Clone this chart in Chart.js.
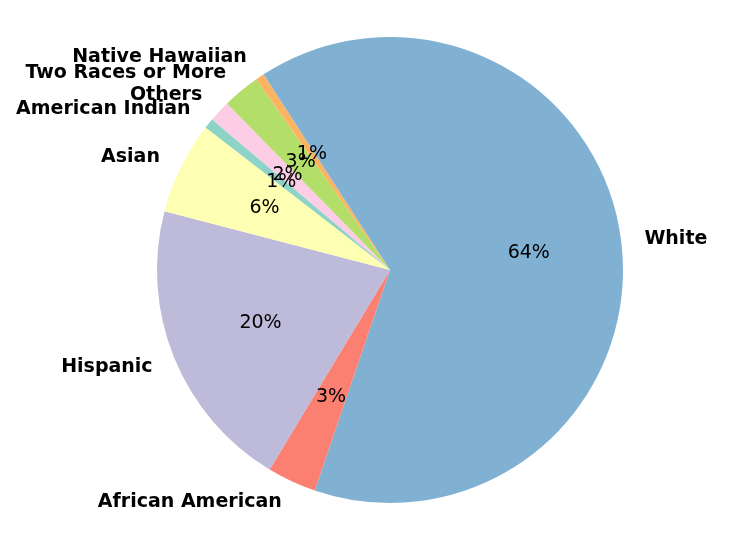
<!DOCTYPE html>
<html>
<head>
<meta charset="utf-8">
<script src="https://cdn.jsdelivr.net/npm/chart.js@4/dist/chart.umd.min.js"></script>
<style>
  body { margin: 0; background: #fff; }
  #wrap { width: 747px; height: 539px; }
</style>
</head>
<body>
<div id="wrap"><canvas id="myChart" width="747" height="539"></canvas></div>
<script>
// data in the original (counter-clockwise) order
var categories = ['American Indian', 'Asian', 'Hispanic', 'African American', 'White', 'Native Hawaiian', 'Two Races or More', 'Others'];
var shares = [0.7, 6.4, 20.4, 3.4, 64.3, 0.6, 2.6, 1.5];
var colors = ['#8dd3c7', '#ffffb3', '#bebada', '#fb8072', '#80b1d3', '#fdb462', '#b3de69', '#fccde5'];

// chart.js goes clockwise, so flip everything
var labelsCw = categories.slice().reverse();
var sharesCw = shares.slice().reverse();
var colorsCw = colors.slice().reverse();

const pieText = {
    id: 'pieText',
    afterDatasetsDraw: function(chart) {
        var ctx = chart.ctx;
        var meta = chart.getDatasetMeta(0);
        var vals = chart.data.datasets[0].data;
        var total = vals.reduce(function(a, b) { return a + b; }, 0);
        ctx.save();
        ctx.fillStyle = '#000';
        ctx.textBaseline = 'middle';
        meta.data.forEach(function(arc, i) {
            var mid = (arc.startAngle + arc.endAngle) / 2;
            var r = arc.outerRadius;
            // percentage inside
            ctx.font = '19px "DejaVu Sans"';
            ctx.textAlign = 'center';
            ctx.fillText(Math.round(vals[i] / total * 100) + '%',
                arc.x + Math.cos(mid) * r * 0.6, arc.y + Math.sin(mid) * r * 0.6);
            // category outside
            var lx = arc.x + Math.cos(mid) * r * 1.1;
            var ly = arc.y + Math.sin(mid) * r * 1.1;
            ctx.font = 'bold 19px "DejaVu Sans"';
            ctx.textAlign = Math.cos(mid) < 0 ? 'right' : 'left';
            ctx.fillText(chart.data.labels[i], lx, ly);
        });
        ctx.restore();
    }
};

const ctx = document.getElementById('myChart').getContext('2d');
const myChart = new Chart(ctx, {
    type: 'pie',
    data: {
        labels: labelsCw,
        datasets: [{
            data: sharesCw,
            backgroundColor: colorsCw,
            borderWidth: 0
        }]
    },
    options: {
        responsive: false,
        animation: false,
        rotation: -49.8,
        layout: {
            padding: { left: 157, right: 124, top: 37, bottom: 36 }
        },
        plugins: {
            legend: { display: false },
            tooltip: { enabled: false }
        }
    },
    plugins: [pieText]
});
</script>
</body>
</html>
